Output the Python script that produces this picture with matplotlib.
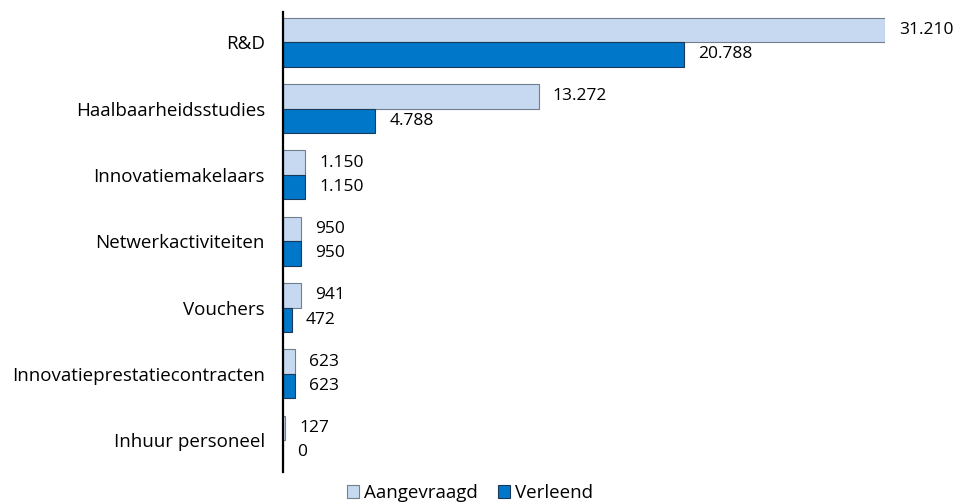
import numpy as np
import matplotlib
matplotlib.use("Agg")
import matplotlib.pyplot as plt

categories = ["R&D", "Haalbaarheidsstudies", "Innovatiemakelaars", "Netwerkactiviteiten",
              "Vouchers", "Innovatieprestatiecontracten", "Inhuur personeel"]
aangevraagd = [31210, 13272, 1150, 950, 941, 623, 127]
verleend = [20788, 4788, 1150, 950, 472, 623, 0]

plt.rcParams['font.family'] = ['Open Sans', 'DejaVu Sans']

light = "#c6d9f0"
dark = "#0077c8"

fig = plt.figure(figsize=(9.55, 5.04), dpi=100)
ax = fig.add_axes([283/955, 1 - 472/504, (885 - 283)/955, (472 - 12)/504])

y = np.arange(len(categories))
h = 0.37
ax.barh(y - h/2, aangevraagd, height=h, color=light, edgecolor="#6f7f90", linewidth=0.8,
        label="Aangevraagd")
ax.barh(y + h/2, verleend, height=h, color=dark, edgecolor="#1a3a5c", linewidth=0.8,
        label="Verleend")

def fmt(v):
    return f"{v:,}".replace(",", ".")

for i, (a, v) in enumerate(zip(aangevraagd, verleend)):
    ax.annotate(fmt(a), (a, i - h/2), xytext=(10, 0), textcoords="offset points",
                va="center", ha="left", fontsize=12.5)
    ax.annotate(fmt(v), (v, i + h/2), xytext=(10, 0), textcoords="offset points",
                va="center", ha="left", fontsize=12.5)

ax.set_xlim(0, 31210)
ax.set_ylim(len(categories) - 1 + 0.48, -0.455)
ax.set_yticks(y)
ax.set_yticklabels(categories, fontsize=13.5)
ax.tick_params(axis="y", length=0, pad=13)
ax.set_xticks([])
for s in ["top", "right", "bottom"]:
    ax.spines[s].set_visible(False)
ax.spines["left"].set_linewidth(1.6)
ax.spines["left"].set_color("black")

fig.legend(loc="lower center", bbox_to_anchor=(0.492, -0.03), ncol=2, frameon=False,
           fontsize=13.5, handlelength=0.65, handleheight=0.65, handletextpad=0.25,
           columnspacing=1.1)

fig.savefig("out.png", dpi=100)
